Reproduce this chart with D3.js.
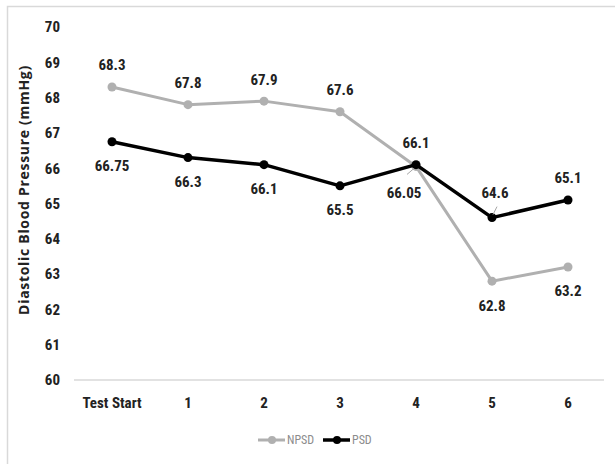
<!DOCTYPE html>
<html>
<head>
<meta charset="utf-8">
<script src="https://cdn.jsdelivr.net/npm/d3@7/dist/d3.min.js"></script>
<style>
  html, body { margin: 0; padding: 0; background: #fff; }
  svg { display: block; }
  .num { font-family: "Liberation Sans Narrow", "Roboto Condensed", "DejaVu Sans Condensed", sans-serif; font-weight: bold; }
</style>
</head>
<body>
<script>
// Measurement points
const categories = ["Test Start", "1", "2", "3", "4", "5", "6"];

// Diastolic blood pressure per group (mmHg)
const npsdValues = [68.3, 67.8, 67.9, 67.6, 66.05, 62.8, 63.2];
const psdValues  = [66.75, 66.3, 66.1, 65.5, 66.1, 64.6, 65.1];

// Where each value label sits relative to its point
const npsdLabelPos = ["above", "above", "above", "above", "belowLeft", "below", "below"];
const psdLabelPos  = ["below", "below", "below", "below", "above", "aboveLeader", "above"];

const yTicks = [60, 61, 62, 63, 64, 65, 66, 67, 68, 69, 70];
const seriesNames = ["NPSD", "PSD"];

const W = 615, H = 464;
const svg = d3.select("body").append("svg").attr("width", W).attr("height", H);

// Chart frame
svg.append("rect")
  .attr("x", 7.5).attr("y", 6.5).attr("width", W + 10).attr("height", H + 10)
  .attr("fill", "none").attr("stroke", "#d9d9d9").attr("stroke-width", 1.5);

const x = d3.scaleBand().domain(categories).range([74, 606]);
const cx = d => x(d) + x.bandwidth() / 2;
const y = d3.scaleLinear().domain([60, 70]).range([380, 27]);

// Y axis tick labels
const yAxis = d3.axisLeft(y).tickValues(yTicks).tickSize(0).tickPadding(0).tickFormat(d3.format("d"));
const gy = svg.append("g").attr("transform", "translate(60,0)").call(yAxis);
gy.select(".domain").remove();
gy.selectAll("text").attr("class", "num").attr("font-size", 15).attr("fill", "#222");

// X axis baseline and labels
const xAxis = d3.axisBottom(x).tickSize(0).tickPadding(17);
const gx = svg.append("g").attr("transform", "translate(0,380)").call(xAxis);
gx.select(".domain").attr("stroke", "#d9d9d9").attr("stroke-width", 1.5).attr("d", "M74,0H604");
gx.selectAll("text").attr("class", "num").attr("font-size", 15).attr("fill", "#222");

// Y axis title
svg.append("text")
  .attr("transform", "translate(29,190) rotate(-90)")
  .attr("text-anchor", "middle")
  .attr("font-family", "'Open Sans', sans-serif")
  .attr("font-weight", "bold")
  .attr("font-size", 14)
  .attr("letter-spacing", 0.7)
  .attr("fill", "#222")
  .text("Diastolic Blood Pressure (mmHg)");

const line = d3.line().x((d, i) => cx(categories[i])).y(d => y(d));

function drawSeries(values, color, width, r) {
  svg.append("path").datum(values)
    .attr("d", line).attr("fill", "none")
    .attr("stroke", color).attr("stroke-width", width)
    .attr("stroke-linejoin", "round");
  svg.append("g").selectAll("circle").data(values).join("circle")
    .attr("cx", (d, i) => cx(categories[i]))
    .attr("cy", d => y(d))
    .attr("r", r)
    .attr("fill", color);
}

drawSeries(npsdValues, "#b0b0b0", 3, 4.5);
drawSeries(psdValues, "#000", 3.5, 4.5);

// Value labels
function drawLabels(values, positions) {
  values.forEach((v, i) => {
    const px = cx(categories[i]), py = y(v);
    const pos = positions[i];
    let lx = px, ly;
    if (pos === "above") ly = py - 22;
    else if (pos === "below") ly = py + 24;
    else if (pos === "belowLeft") { lx = px - 12; ly = py + 26; }
    else if (pos === "aboveLeader") { lx = px + 3; ly = py - 25; }
    svg.append("text")
      .attr("class", "num")
      .attr("x", lx).attr("y", ly)
      .attr("dy", "0.36em")
      .attr("text-anchor", "middle")
      .attr("font-size", 15)
      .attr("fill", "#222")
      .text(String(v));
    if (pos === "belowLeft") {
      svg.append("line")
        .attr("x1", px - 2).attr("y1", py + 2)
        .attr("x2", px - 9).attr("y2", py + 8)
        .attr("stroke", "#a6a6a6").attr("stroke-width", 1);
    }
    if (pos === "aboveLeader") {
      svg.append("line")
        .attr("x1", px + 1).attr("y1", py - 3)
        .attr("x2", px + 5).attr("y2", py - 11)
        .attr("stroke", "#a6a6a6").attr("stroke-width", 1);
    }
  });
}
drawLabels(npsdValues, npsdLabelPos);
drawLabels(psdValues, psdLabelPos);

// Legend
const legendItems = [
  { name: seriesNames[0], color: "#b0b0b0", w: 3, x0: 258 },
  { name: seriesNames[1], color: "#000", w: 3.5, x0: 323 }
];
const lg = svg.append("g").attr("transform", "translate(0,440)");
legendItems.forEach(it => {
  lg.append("line").attr("x1", it.x0).attr("x2", it.x0 + 27)
    .attr("y1", 0).attr("y2", 0)
    .attr("stroke", it.color).attr("stroke-width", it.w);
  lg.append("circle").attr("cx", it.x0 + 14).attr("cy", 0).attr("r", 4).attr("fill", it.color);
  lg.append("text")
    .attr("x", it.x0 + 29).attr("y", 0).attr("dy", "0.36em")
    .attr("font-family", "'Liberation Sans Narrow', 'Roboto Condensed', sans-serif")
    .attr("font-size", 12)
    .attr("fill", "#8c8c8c")
    .text(it.name);
});
</script>
</body>
</html>
